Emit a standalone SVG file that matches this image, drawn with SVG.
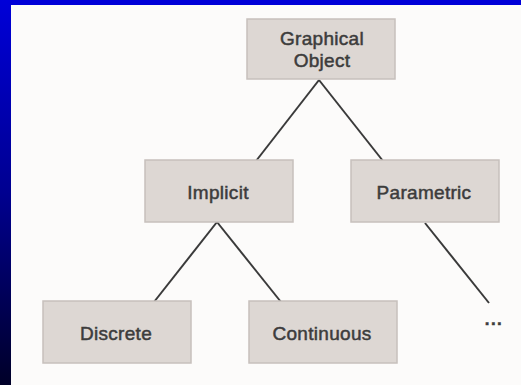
<svg xmlns="http://www.w3.org/2000/svg" width="521" height="385" viewBox="0 0 521 385">
<defs>
<linearGradient id="side" x1="0" y1="0" x2="0" y2="1">
<stop offset="0" stop-color="#0000d8"/>
<stop offset="0.5" stop-color="#000090"/>
<stop offset="1" stop-color="#000028"/>
</linearGradient>
</defs>
<style>
.box{fill:#ddd7d3;stroke:#c6c0bc;stroke-width:1.5}
.lbl{font-family:"Liberation Sans",Arial,sans-serif;font-size:19px;fill:#3c3c3c;stroke:#3c3c3c;stroke-width:0.5;text-anchor:middle;letter-spacing:0.3px}
.edge{stroke:#3a3a3a;stroke-width:2;fill:none}
</style>
<rect x="0" y="0" width="521" height="385" fill="#fcfbfa"/>
<rect x="0" y="0" width="521" height="5" fill="#0000d8"/>
<rect x="0" y="0" width="11" height="385" fill="url(#side)"/>
<g id="connectors">
<line class="edge" x1="319" y1="80" x2="256" y2="161"/>
<line class="edge" x1="319" y1="80" x2="383" y2="161"/>
<line class="edge" x1="217" y1="222" x2="154" y2="302"/>
<line class="edge" x1="217" y1="222" x2="281" y2="302"/>
<line class="edge" x1="425" y1="223" x2="489" y2="303"/>
</g>
<g id="graphical-object">
<rect class="box" x="247" y="19" width="148" height="60"/>
<text class="lbl" x="322" y="45">Graphical</text>
<text class="lbl" x="322" y="67">Object</text>
</g>
<g id="implicit">
<rect class="box" x="145" y="160" width="148" height="62"/>
<text class="lbl" x="218" y="199">Implicit</text>
</g>
<g id="parametric">
<rect class="box" x="351" y="160" width="148" height="62"/>
<text class="lbl" x="424" y="199">Parametric</text>
</g>
<g id="discrete">
<rect class="box" x="43" y="301" width="148" height="62"/>
<text class="lbl" x="116" y="340">Discrete</text>
</g>
<g id="continuous">
<rect class="box" x="249" y="301" width="148" height="62"/>
<text class="lbl" x="322" y="340">Continuous</text>
</g>
<g id="ellipsis">
<text class="lbl" x="494" y="325" style="font-size:17px;font-weight:bold;letter-spacing:1.5px">...</text>
</g>
</svg>
